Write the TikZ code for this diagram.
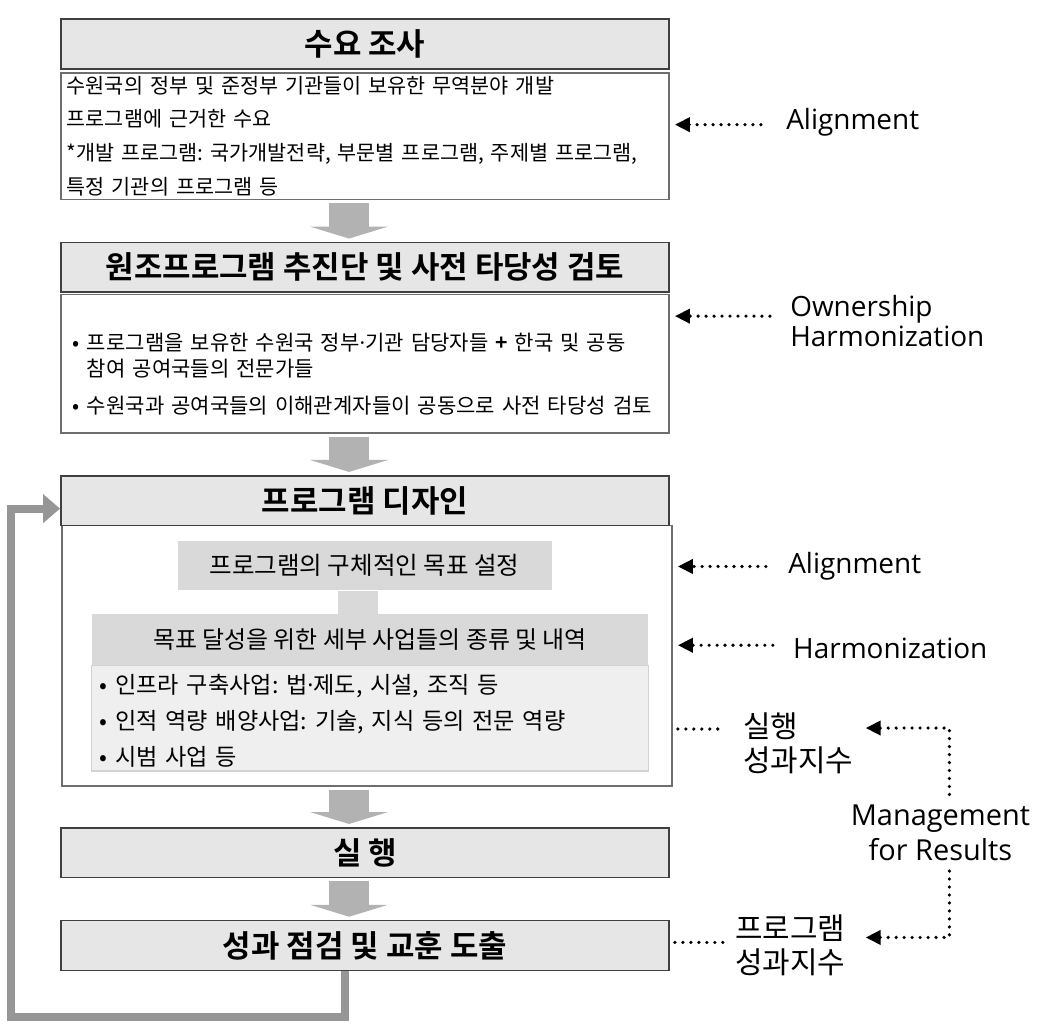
\documentclass[tikz,border=0pt]{standalone}
\usepackage{fontspec}
\setmainfont{Noto Sans CJK KR}[BoldFont={Noto Sans CJK KR Bold}]
\newfontfamily\latinsans{Open Sans}
\newcommand\middot{{\latinsans ·}}
\usepackage{tikz}
\usetikzlibrary{arrows.meta, positioning, calc}
\definecolor{hdrgray}{RGB}{230,230,230}
\definecolor{boxedge}{RGB}{64,64,64}
\definecolor{bodyedge}{RGB}{110,110,110}
\definecolor{arrgray}{RGB}{178,178,178}
\definecolor{subgray}{RGB}{217,217,217}
\definecolor{listgray}{RGB}{239,239,239}
\definecolor{listedge}{RGB}{210,210,210}
\definecolor{fbgray}{RGB}{150,150,150}
\tikzset{
  hdrbox/.style={rectangle, draw=boxedge, fill=hdrgray, minimum width=305pt,
    minimum height=25pt, inner sep=0pt, line width=0.8pt,
    font=\fontsize{15.5}{17}\selectfont\bfseries},
  bodybox/.style={rectangle, draw=bodyedge, fill=white, minimum width=305pt,
    inner xsep=3pt, inner ysep=0pt, text width=299pt, align=left, line width=0.7pt},
  bigarrow/.style={draw=arrgray, line width=20pt,
    -{Triangle[width=39pt, length=6pt]}, shorten <=1.5pt, shorten >=1.5pt},
  dotline/.style={line width=1.8pt, dash pattern=on 0pt off 4pt, line cap=round},
  dotarrow/.style={dotline, -{Triangle[length=7.5pt, width=7pt]}, shorten >=2.5pt}
}

\begin{document}
\frenchspacing
\begin{tikzpicture}[x=0.5pt, y=-0.5pt]
  \tikzset{
    subbox/.style={rectangle, fill=subgray, inner sep=0pt},
    stem/.style={draw=subgray, line width=20pt},
    fbarrow/.style={draw=fbgray, line width=4pt, line join=miter,
      -{Triangle[width=14pt, length=8.5pt]}},
    lbl/.style={inner sep=0pt, align=left, font=\latinsans\fontsize{14}{15}\selectfont},
    klbl/.style={inner sep=0pt, align=left, font=\fontsize{15}{17}\selectfont}
  }
  \fill[white] (0,0) rectangle (1040,1035);

  % Demand survey
  \node[hdrbox] (need) at (366,44) {수요 조사};
  \node[bodybox, minimum height=63.5pt, font=\fontsize{10.4}{17}\selectfont] (needtxt) at (366,136.5)
    {수원국의 정부 및 준정부 기관들이 보유한 무역분야 개발\\
     프로그램에 근거한 수요\\{*}개발 프로그램: 국가개발전략, 부문별 프로그램, 주제별 프로그램,\\
     특정 기관의 프로그램 등};

  % Program team and pre-feasibility
  \node[hdrbox] (team) at (366,268) {원조프로그램 추진단 및 사전 타당성 검토};
  \node[bodybox, minimum height=69.5pt, inner xsep=6pt, text width=293pt,
    font=\fontsize{10.55}{13}\selectfont] (teamtxt) at (366,364.5)
    {\rule{0pt}{19pt}• 프로그램을 보유한 수원국 정부\middot 기관 담당자들 \textbf{+} 한국 및 공동\\
     \hphantom{•} 참여 공여국들의 전문가들\\[5.5pt]
     • 수원국과 공여국들의 이해관계자들이 공동으로 사전 타당성 검토};

  % Program design
  \node[rectangle, draw=bodyedge, line width=0.7pt, minimum width=306pt,
    minimum height=130.5pt] (designtxt) at (368,657.5) {};
  \node[hdrbox] (design) at (366,502) {프로그램 디자인};
  \node[subbox, minimum width=187.5pt, minimum height=25pt,
    font=\fontsize{12.3}{14}\selectfont] (goal) at (365.5,567)
    {프로그램의 구체적인 목표 설정};
  \node[subbox, minimum width=279pt, minimum height=25.5pt,
    font=\fontsize{12}{14}\selectfont] (detail) at (371,641.5)
    {목표 달성을 위한 세부 사업들의 종류 및 내역};
  \node[rectangle, fill=listgray, draw=listedge, line width=0.6pt,
    minimum width=279pt, minimum height=53pt, inner xsep=4pt, inner ysep=0pt,
    text width=271pt, align=left, font=\fontsize{11.6}{18}\selectfont] (items) at (371,720)
    {\rule{0pt}{12pt}• 인프라 구축사업: 법\middot 제도, 시설, 조직 등\\
     • 인적 역량 배양사업: 기술, 지식 등의 전문 역량\\
     • 시범 사업 등};
  \coordinate (stemx) at (359,0);
  \draw[stem] (goal.south -| stemx) -- (detail.north -| stemx);

  % Implementation and review
  \node[hdrbox] (run) at (366,855) {실 행};
  \node[hdrbox] (review) at (366,948) {성과 점검 및 교훈 도출};

  % Block arrows between stages
  \coordinate (arrx) at (350,0);
  \draw[bigarrow] (needtxt.south -| arrx) -- (team.north -| arrx);
  \draw[bigarrow] (teamtxt.south -| arrx) -- (design.north -| arrx);
  \draw[bigarrow] (designtxt.south -| arrx) -- (run.north -| arrx);
  \draw[bigarrow] (run.south -| arrx) -- (review.north -| arrx);

  % Feedback loop
  \coordinate (fbx) at (346,0);
  \coordinate (fbcorner) at (11,1020);
  \draw[fbarrow] (review.south -| fbx) |- (fbcorner) |- ([yshift=-4pt]design.west);

  % Principles on the right
  \node[lbl, anchor=west] (align1) at (788,123) {Alignment};
  \coordinate (align1tail) at (763,125);
  \draw[dotarrow] (align1tail) -- (align1tail -| needtxt.east);

  \node[lbl, anchor=west] (own) at (792,322) {Ownership\\Harmonization};
  \coordinate (owntail) at (772,317);
  \draw[dotarrow] (owntail) -- (owntail -| teamtxt.east);

  \node[lbl, anchor=west] (align2) at (790,568) {Alignment};
  \coordinate (align2tail) at (768,568);
  \draw[dotarrow] (align2tail) -- (align2tail -| designtxt.east);

  \node[lbl, anchor=west] (harm) at (795,650) {Harmonization};
  \coordinate (harmtail) at (775,647);
  \draw[dotarrow] (harmtail) -- (harmtail -| designtxt.east);

  % Indicators
  \node[klbl, anchor=west] (runkpi) at (745,745) {실행\\성과지수};
  \coordinate (runtail) at (727,731);
  \draw[dotline, shorten <=2.5pt] (designtxt.east |- runtail) -- (runtail);

  \node[klbl, anchor=west] (progkpi) at (737,948) {프로그램\\성과지수};
  \coordinate (progtail) at (725,945);
  \draw[dotline, shorten <=2.5pt] (review.east |- progtail) -- (progtail);

  % Management for results
  \node[lbl, align=center, inner sep=5pt, font=\latinsans\fontsize{14.5}{17.5}\selectfont]
    (mfr) at (943,835) {Management\\for Results};
  \coordinate (mfrx) at (952,0);
  \coordinate (runtip) at (868,730);
  \coordinate (progtip) at (868,940);
  \draw[dotarrow, shorten >=0pt] (mfr.north -| mfrx) |- (runtip);
  \draw[dotarrow, shorten >=0pt] (mfr.south -| mfrx) |- (progtip);
\end{tikzpicture}
\end{document}
